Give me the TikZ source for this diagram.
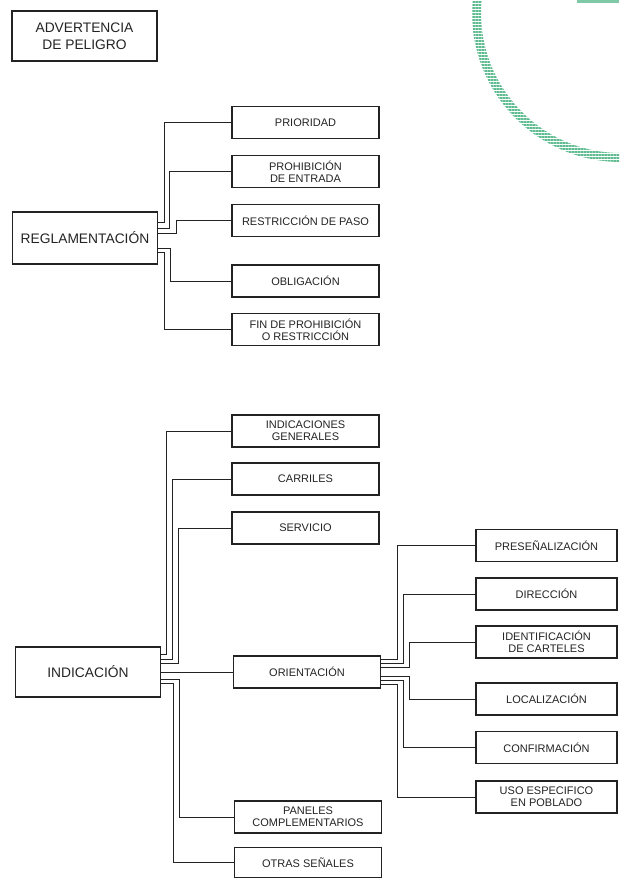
\documentclass[tikz,border=0pt]{standalone}
\usepackage{fontspec}
\setmainfont{Liberation Sans}
\usetikzlibrary{patterns.meta}
\definecolor{verde}{RGB}{95,188,145}
\definecolor{tinta}{RGB}{35,35,35}
\tikzset{
  caja/.style={draw=tinta, line width=1.3pt, text=tinta, inner sep=0pt,
    minimum width=147pt, minimum height=32pt, align=center,
    font=\fontsize{11}{12}\selectfont},
  cajader/.style={caja, minimum width=141pt},
  grande/.style={caja, minimum width=145pt, minimum height=50pt,
    font=\fontsize{13.8}{16.5}\selectfont},
  rama/.style={draw=tinta, line width=1pt}
}
\begin{document}
\begin{tikzpicture}[x=1pt,y=-1pt]
      \useasboundingbox (0,0) rectangle (619,878);
      % green arc of the page
      \begin{scope}
        \clip (0,0) rectangle (619,878);
        \fill[pattern={Lines[angle=0,distance=3pt,line width=1.3pt]}, pattern color=verde, even odd rule]
          (621,13) circle[radius=149] (621,13) circle[radius=140];
        \fill[verde!80] (577,0) rectangle (619,2.5);
      \end{scope}
      % main groups
      \node[grande] (adv) at (84.5,36) {ADVERTENCIA\\DE PELIGRO};
      \node[grande, minimum height=52pt] (regl) at (85,238) {REGLAMENTACIÓN};
      \node[grande] (ind) at (88,672) {INDICACIÓN};
      % reglamentacion
      \node[caja] (prio) at (305.5,122.5) {PRIORIDAD};
      \node[caja] (proh) at (305.5,171.5) {PROHIBICIÓN\\DE ENTRADA};
      \node[caja] (restr) at (305.5,220.5) {RESTRICCIÓN DE PASO};
      \node[caja] (oblig) at (305.5,281) {OBLIGACIÓN};
      \node[caja] (fin) at (305.5,329.5) {FIN DE PROHIBICIÓN\\O RESTRICCIÓN};
      % indicacion
      \node[caja] (indgen) at (305.5,431) {INDICACIONES\\GENERALES};
      \node[caja] (carr) at (305.5,479) {CARRILES};
      \node[caja] (serv) at (305.5,528) {SERVICIO};
      \node[caja] (orient) at (307,672) {ORIENTACIÓN};
      \node[caja] (panel) at (308,817) {PANELES\\COMPLEMENTARIOS};
      \node[caja, minimum height=30pt] (otras) at (308,862.5) {OTRAS SEÑALES};
      % orientacion
      \node[cajader] (pres) at (546.5,545.5) {PRESEÑALIZACIÓN};
      \node[cajader] (dir) at (546.5,594) {DIRECCIÓN};
      \node[cajader] (ident) at (546.5,642) {IDENTIFICACIÓN\\DE CARTELES};
      \node[cajader] (loc) at (546.5,699) {LOCALIZACIÓN};
      \node[cajader] (conf) at (546.5,747.5) {CONFIRMACIÓN};
      \node[cajader] (uso) at (546.5,797) {USO ESPECIFICO\\EN POBLADO};
      \begin{scope}[rama]
        \draw ([yshift=16pt]regl.east) -- ++(6,0) |- (prio.west);
        \draw ([yshift=10pt]regl.east) -- ++(11,0) |- (proh.west);
        \draw ([yshift=5pt]regl.east) -- ++(18,0) |- (restr.west);
        \draw ([yshift=-10pt]regl.east) -- ++(12,0) |- (oblig.west);
        \draw ([yshift=-14pt]regl.east) -- ++(6,0) |- (fin.west);
        \draw ([yshift=18pt]ind.east) -- ++(5,0) |- (indgen.west);
        \draw ([yshift=13pt]ind.east) -- ++(11,0) |- (carr.west);
        \draw ([yshift=9pt]ind.east) -- ++(17,0) |- (serv.west);
        \draw (ind.east) -- (orient.west);
        \draw ([yshift=-7pt]ind.east) -- ++(18,0) |- (panel.west);
        \draw ([yshift=-11pt]ind.east) -- ++(12,0) |- (otras.west);
        \draw ([yshift=13pt]orient.east) -- ++(16,0) |- (pres.west);
        \draw ([yshift=9pt]orient.east) -- ++(22,0) |- (dir.west);
        \draw ([yshift=5pt]orient.east) -- ++(28,0) |- (ident.west);
        \draw ([yshift=-4pt]orient.east) -- ++(28,0) |- (loc.west);
        \draw ([yshift=-8pt]orient.east) -- ++(22,0) |- (conf.west);
        \draw ([yshift=-12pt]orient.east) -- ++(16,0) |- (uso.west);
      \end{scope}
    \end{tikzpicture}
\end{document}
